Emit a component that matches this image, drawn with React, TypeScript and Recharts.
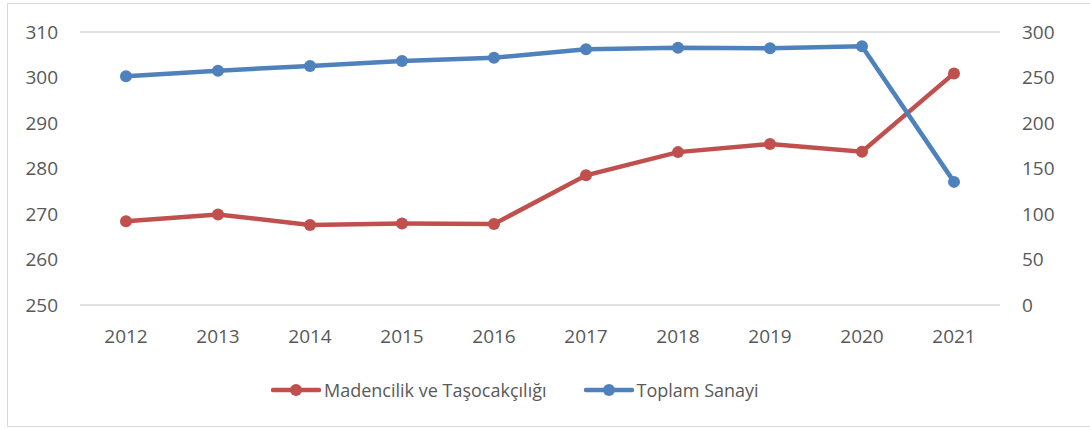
import { LineChart, Line, XAxis, YAxis, CartesianGrid, Legend } from 'recharts';

const years = ['2012', '2013', '2014', '2015', '2016', '2017', '2018', '2019', '2020', '2021'];
const madencilik = [268.4, 269.9, 267.6, 267.9, 267.8, 278.5, 283.6, 285.4, 283.7, 300.9];
const toplamSanayi = [251.4, 257.5, 262.7, 268.2, 271.8, 281.0, 282.8, 282.1, 284.3, 135.3];
const leftTicks = [250, 260, 270, 280, 290, 300, 310];
const rightTicks = [0, 50, 100, 150, 200, 250, 300];

const RED = '#c0504d';
const BLUE = '#4f81bd';
const TEXT = '#595959';
const FONT = '"Open Sans", sans-serif';

const data = years.map((y, i) => ({
  year: y,
  madencilik: madencilik[i],
  toplam: toplamSanayi[i],
}));

const legendItems = [
  { name: 'Madencilik ve Taşocakçılığı', color: RED },
  { name: 'Toplam Sanayi', color: BLUE },
];

function LegendContent() {
  return (
    <div style={{ height: 50, position: 'relative', fontFamily: FONT }}>
      <div
        style={{
          position: 'absolute',
          top: 23,
          left: 271,
          display: 'flex',
          alignItems: 'center',
          gap: 37,
          fontSize: 18,
          color: TEXT,
        }}
      >
        {legendItems.map((it) => (
          <div key={it.name} style={{ display: 'flex', alignItems: 'center' }}>
            <svg width={50} height={16} style={{ marginRight: 3 }}>
              <line x1={2} y1={8} x2={48} y2={8} stroke={it.color} strokeWidth={4.5} strokeLinecap="round" />
              <circle cx={25} cy={8} r={6} fill={it.color} />
            </svg>
            <span>{it.name}</span>
          </div>
        ))}
      </div>
    </div>
  );
}

export default function App() {
  return (
    <div style={{ position: 'absolute', left: 0, top: 0, width: 1090, height: 429, background: '#fff' }}>
      <div
        style={{
          position: 'absolute',
          left: 7,
          top: 3,
          width: 1090,
          height: 424,
          border: '1px solid #d9d9d9',
          boxSizing: 'border-box',
        }}
      />
      <LineChart
        width={1090}
        height={429}
        data={data}
        margin={{ top: 32, right: 0, bottom: 24, left: 0 }}
        style={{ position: 'absolute', left: 0, top: 0, fontFamily: FONT }}
      >
        <CartesianGrid vertical={false} stroke="#d9d9d9" strokeWidth={1.5} />
        <XAxis
          dataKey="year"
          axisLine={false}
          tickLine={false}
          height={50}
          padding={{ left: 46, right: 46 }}
          tickMargin={19}
          tick={{ fill: TEXT, fontSize: 19 }}
        />
        <YAxis
          yAxisId="left"
          orientation="left"
          domain={[250, 310]}
          ticks={leftTicks}
          width={80}
          axisLine={false}
          tickLine={false}
          tickMargin={16}
          tick={{ fill: TEXT, fontSize: 19 }}
        />
        <YAxis
          yAxisId="right"
          orientation="right"
          domain={[0, 300]}
          ticks={rightTicks}
          width={90}
          axisLine={false}
          tickLine={false}
          tickMargin={16}
          tick={{ fill: TEXT, fontSize: 19, textAnchor: 'start' }}
        />
        <Legend verticalAlign="bottom" content={<LegendContent />} />
        <Line
          yAxisId="left"
          dataKey="madencilik"
          name="Madencilik ve Taşocakçılığı"
          stroke={RED}
          strokeWidth={4.5}
          dot={{ r: 6, fill: RED, stroke: RED, strokeWidth: 0 }}
          activeDot={false}
          isAnimationActive={false}
        />
        <Line
          yAxisId="right"
          dataKey="toplam"
          name="Toplam Sanayi"
          stroke={BLUE}
          strokeWidth={4.5}
          dot={{ r: 6, fill: BLUE, stroke: BLUE, strokeWidth: 0 }}
          activeDot={false}
          isAnimationActive={false}
        />
      </LineChart>
    </div>
  );
}
